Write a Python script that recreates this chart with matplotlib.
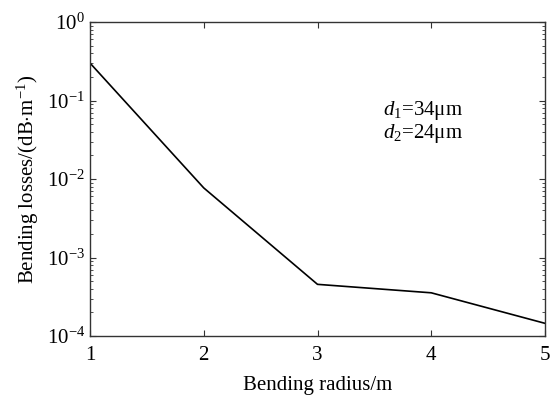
import matplotlib
matplotlib.use("Agg")
import matplotlib.pyplot as plt
import numpy as np
from matplotlib.ticker import LogLocator, FixedLocator

plt.rcParams['font.family'] = ['Liberation Serif', 'DejaVu Serif']
plt.rcParams['mathtext.fontset'] = 'custom'
plt.rcParams['mathtext.rm'] = 'Liberation Serif'
plt.rcParams['mathtext.it'] = 'Liberation Serif:italic'

radius = [1, 2, 3, 4, 5]
losses = [0.30, 0.0077, 4.55e-4, 3.55e-4, 1.45e-4]
xticks = [1, 2, 3, 4, 5]
yticks = [1e-4, 1e-3, 1e-2, 1e-1, 1e0]
ytick_labels = [r'$10^{-4}$', r'$10^{-3}$', r'$10^{-2}$', r'$10^{-1}$', r'$10^{0}$']

fig = plt.figure(figsize=(5.51, 3.95), dpi=100)
ax = fig.add_axes([90/551, 1-336/395, (545-90)/551, (336-22)/395])
ax.plot(radius, losses, color='black', lw=1.2)
ax.set_yscale('log')
ax.set_xlim(1, 5)
ax.set_ylim(1e-4, 1e0)
ax.set_xticks(xticks)
ax.set_xticklabels([str(x) for x in xticks])
ax.yaxis.set_major_locator(FixedLocator(yticks))
ax.set_yticklabels(ytick_labels)
ax.yaxis.set_minor_locator(LogLocator(base=10, subs=np.arange(2, 10)))
ax.yaxis.set_minor_formatter(matplotlib.ticker.NullFormatter())
ax.tick_params(which='both', direction='in', top=True, right=True, labelsize=15, color='#333333')
ax.tick_params(which='major', length=4)
ax.tick_params(which='minor', length=2)
ax.tick_params(axis='x', pad=7)
for s in ax.spines.values():
    s.set_color('#333333')
    s.set_linewidth(1.0)
ax.set_xlabel('Bending radius/m', fontsize=15, labelpad=8)
ax.set_ylabel(r'Bending losses/(dB$\cdot$m$^{-1}$)', fontsize=15, labelpad=4)
ax.text(0.645, 0.705, r'$d_1$=34μm', transform=ax.transAxes, fontsize=15)
ax.text(0.645, 0.63, r'$d_2$=24μm', transform=ax.transAxes, fontsize=15)
fig.savefig('out.png', dpi=100, facecolor='white')
